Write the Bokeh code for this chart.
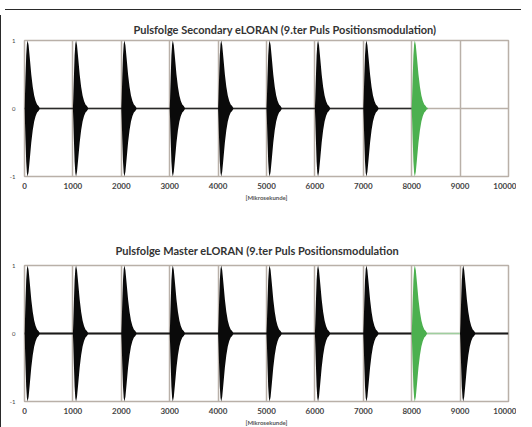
from bokeh.plotting import figure
from bokeh.layouts import column
from bokeh.models import FixedTicker, Div
from bokeh.embed import file_html
from bokeh.resources import INLINE

# ---- data ----
x_ticks = [0, 1000, 2000, 3000, 4000, 5000, 6000, 7000, 8000, 9000, 10000]
y_ticks = [-1, 0, 1]
y_tick_labels = {-1: "-1", 0: "0", 1: "1"}

# pulse envelope (offset from pulse start in microseconds, relative amplitude)
env_t = [0, 8, 20, 35, 50, 65, 85, 110, 140, 170, 200, 230, 260, 290, 320]
env_a = [0, 0.15, 0.45, 0.78, 0.95, 1.0, 0.93, 0.74, 0.5, 0.32, 0.19, 0.11, 0.06, 0.035, 0.0]

sec_black_starts = [0, 1000, 2000, 3000, 4000, 5000, 6000, 7000]
sec_green_starts = [8000]
sec_black_span = [0, 8000]
sec_green_span = [8000, 8330]

mas_black_starts = [0, 1000, 2000, 3000, 4000, 5000, 6000, 7000, 9000]
mas_green_starts = [8000]
mas_black_spans = [[0, 8000], [9000, 10000]]
mas_green_span = [8000, 9000]

title_sec = "Pulsfolge Secondary eLORAN (9.ter Puls Positionsmodulation)"
title_mas = "Pulsfolge Master eLORAN (9.ter Puls Positionsmodulation"
x_label = "[Mikrosekunde]"

BLACK = "#0a0a0a"
GREEN = "#4cb04f"
GRID = "#b9b0a8"
FONT = "Lato"


def make_fig(title, height, top, bottom, title_offset, lift_title=False):
    p = figure(width=516, height=height, output_backend="svg", toolbar_location=None,
               x_range=(0, 10000), y_range=(-1, 1),
               min_border_left=23, min_border_right=9,
               min_border_top=top, min_border_bottom=bottom,
               styles={"border-left": "1.5px solid #2a2a2a"})
    if lift_title:
        p.title.text = title + "\n "
        p.title.text_line_height = 0.25
    else:
        p.title.text = title
    p.title.text_font = FONT
    p.title.text_font_style = "bold"
    p.title.text_font_size = "11px"
    p.title.text_color = "#333333"
    p.title.align = "left"
    p.title.offset = title_offset
    p.outline_line_color = GRID
    p.outline_line_width = 1.5
    p.xaxis.ticker = FixedTicker(ticks=x_ticks)
    p.yaxis.ticker = FixedTicker(ticks=y_ticks)
    p.yaxis.major_label_overrides = y_tick_labels
    for ax in (p.xaxis, p.yaxis):
        ax.axis_line_color = None
        ax.major_tick_line_color = None
        ax.minor_tick_line_color = None
        ax.major_tick_in = 0
        ax.major_tick_out = 0
        ax.major_label_text_font = FONT
        ax.major_label_text_color = "#444444"
    p.xaxis.major_label_text_font_size = "8px"
    p.xaxis.major_label_text_font_style = "bold"
    p.xaxis.major_label_standoff = 6
    p.yaxis.major_label_text_font_size = "6px"
    p.yaxis.major_label_standoff = 9
    p.xaxis.axis_label = x_label
    p.xaxis.axis_label_text_font = FONT
    p.xaxis.axis_label_text_font_size = "6px"
    p.xaxis.axis_label_text_font_style = "bold"
    p.xaxis.axis_label_text_color = "#555555"
    p.xaxis.axis_label_standoff = 2
    p.xgrid.grid_line_color = GRID
    p.xgrid.grid_line_width = 1.5
    p.ygrid.grid_line_color = GRID
    p.ygrid.grid_line_width = 1.5
    p.background_fill_color = "white"
    return p


def add_pulses(p, starts, color):
    for s in starts:
        xs = [s + t for t in env_t]
        p.varea(x=xs, y1=[-a for a in env_a], y2=env_a, fill_color=color)


# ---- top: secondary ----
p1 = make_fig(title_sec, 200, 24, 39, 109)
p1.line(sec_black_span, [0, 0], line_color="#2a2a2a", line_width=1.5)
p1.line(sec_green_span, [0, 0], line_color=GREEN, line_width=1.5)
add_pulses(p1, sec_black_starts, BLACK)
add_pulses(p1, sec_green_starts, GREEN)

# ---- bottom: master ----
p2 = make_fig(title_mas, 213, 50, 26, 91, lift_title=True)
for span in mas_black_spans:
    p2.line(span, [0, 0], line_color="#1a1a1a", line_width=1.8)
p2.line(mas_green_span, [0, 0], line_color="#9fcf9f", line_width=1.5)
add_pulses(p2, mas_black_starts, BLACK)
add_pulses(p2, mas_green_starts, GREEN)

top_line = Div(text="", width=516, height=5,
               styles={"border-bottom": "1.5px solid #2a2a2a", "box-sizing": "border-box"})

layout = column(top_line, p1, p2, spacing=0, styles={"margin-bottom": "-8px"})

open("out.html", "w").write(file_html(layout, INLINE))
